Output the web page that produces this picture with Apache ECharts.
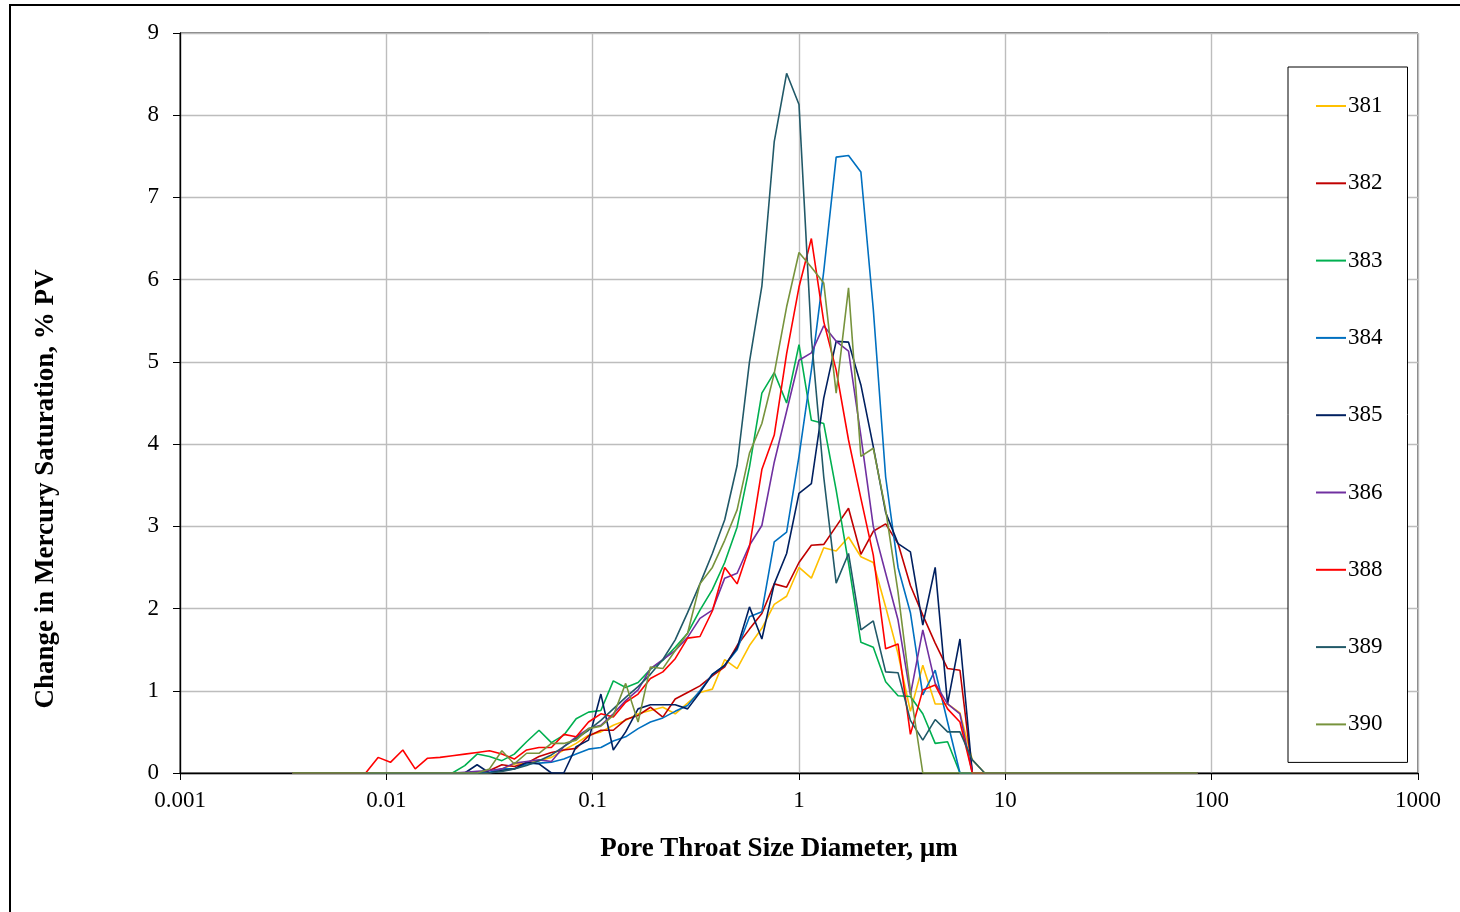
<!DOCTYPE html>
<html>
<head>
<meta charset="utf-8">
<script src="https://cdn.jsdelivr.net/npm/echarts@6/dist/echarts.min.js"></script>
<style>
html,body{margin:0;padding:0;background:#fff;}
#chart{width:1460px;height:912px;}
</style>
</head>
<body>
<div id="chart"></div>
<script>
// Pore throat diameters (µm), shared by all samples
const diameters = [0.0035,
  0.00794, 0.00912, 0.01047, 0.01202, 0.0138, 0.01585, 0.0182, 0.02089, 0.02399, 0.02754,
  0.03162, 0.03631, 0.04169, 0.04786, 0.05495, 0.0631, 0.07244, 0.08318, 0.0955, 0.1096,
  0.1259, 0.1445, 0.166, 0.1905, 0.2188, 0.2512, 0.2884, 0.3311, 0.3802, 0.4365,
  0.5012, 0.5754, 0.6607, 0.7586, 0.871,
  1.0, 1.148, 1.318, 1.514, 1.738, 1.995, 2.291, 2.63, 3.02, 3.467, 3.981, 4.571, 5.248, 6.026, 6.918, 7.943, 9.12,
  85.5];

const sampleNames = ['381', '382', '383', '384', '385', '386', '388', '389', '390'];
const sampleColors = ['#FFC000', '#C00000', '#00B050', '#0070C0', '#002060', '#7030A0', '#FF0000', '#215968', '#77933C'];

const s381 = [0, 0,0,0,0,0,0,0,0,0,0,0,
  0.05,0.11,0.12,0.15,0.19,0.28,0.36,0.46,0.50,0.58,0.64,0.72,0.76,0.80,0.72,0.85,0.98,1.02,1.38,1.27,
  1.55,1.76,2.05,2.15,2.50,2.37,2.74,2.70,2.87,2.63,2.56,2.02,1.45,0.75,1.31,0.84,0.84,0.73,0.16,0,0, 0];
const s382 = [0, 0,0,0,0,0,0,0,0,0,0,
  0.03,0.10,0.08,0.12,0.20, 0.25,0.28,0.30,0.45,0.52, 0.52,0.65,0.70,0.80,0.68, 0.90,0.98,1.06,1.18,1.29,
  1.55,1.75,1.94,2.30,2.26, 2.56,2.77,2.78,3.00,3.22, 2.66,2.94,3.03,2.79,2.28, 1.92,1.58,1.27,1.25,0, 0,0, 0];
const s383 = [0, 0,0,0,0,0,0,0,0,
  0.09,0.23,0.20,0.15,0.23,0.38, 0.52,0.37,0.46,0.66,0.74,0.76, 1.12,1.04,1.10,1.26,1.37, 1.53,1.70,1.98,2.23,2.56,
  2.99,3.72,4.62,4.87,4.50, 5.21,4.29,4.25,3.44,2.55, 1.59,1.53,1.11,0.94,0.93, 0.72,0.36,0.38,0,0, 0,0, 0];
const s384 = [0, 0,0,0,0,0,0,0,0,0,0,
  0.01,0.05,0.05,0.11,0.12, 0.13,0.17,0.23,0.29,0.31, 0.39,0.44,0.54,0.62,0.67, 0.75,0.82,1.00,1.20,1.31,
  1.50,1.90,1.96,2.81,2.93, 3.85,4.90,6.10,7.49,7.51, 7.31,5.64,3.60,2.50,1.95, 0.95,1.25,0.62,0,0, 0,0, 0];
const s385 = [0, 0,0,0,0,0,0,0,0,0,
  0.10, 0,0.03,0.05,0.13,0.11, 0,0,0.32,0.40,0.96, 0.28,0.50,0.78,0.83,0.83, 0.83,0.78,0.98,1.20,1.31,
  1.52,2.02,1.63,2.30,2.67, 3.40,3.52,4.56,5.25,5.24, 4.72,3.97,3.17,2.79,2.69, 1.80,2.50,0.84,1.63,0, 0,0, 0];
const s386 = [0, 0,0,0,0,0,0,0,0,
  0.01,0.02,0.03,0.05,0.12,0.14, 0.16,0.14,0.32,0.44,0.54,0.58, 0.72,0.88,1.01,1.27,1.38, 1.49,1.65,1.88,1.98,2.37,
  2.43,2.77,3.01,3.78,4.40, 5.02,5.11,5.44,5.25,5.13, 4.10,3.00,2.43,1.86,0.95, 1.74,1.09,0.84,0.72,0, 0,0, 0];
const s388 = [0, 0,
  0.19,0.13,0.28,0.05,0.18, 0.19,0.21,0.23,0.25,0.27, 0.23,0.17,0.28,0.31,0.31, 0.47,0.44,0.62,0.72,0.68,
  0.86,0.96,1.15,1.23,1.39, 1.64,1.66,1.97,2.50,2.30, 2.75,3.69,4.11,5.10,5.91, 6.50,5.49,4.90,4.05,3.34,
  2.65,1.51,1.57,0.47,1.01, 1.07,0.78,0.62,0,0, 0, 0];
const s389 = [0, 0,0,0,0,0,0,0,0,0,0,0,
  0.02,0.05,0.09,0.15,0.22, 0.32,0.42,0.52,0.64,0.78, 0.92,1.05,1.20,1.38,1.62, 1.95,2.30,2.67,3.08,3.74,
  5.00,5.92,7.68,8.51,8.13, 5.30,3.60,2.31,2.67,1.74, 1.85,1.23,1.22,0.64,0.40, 0.65,0.50,0.50,0.16,0, 0, 0];
const s390 = [0, 0,0,0,0,0,0,0,0,0,0,
  0.05,0.27,0.11,0.24,0.24, 0.36,0.36,0.40,0.54,0.57, 0.70,1.09,0.62,1.29,1.27, 1.49,1.70,2.30,2.50,2.83,
  3.20,3.89,4.25,4.86,5.67, 6.33,6.15,5.96,4.62,5.90, 3.85,3.95,3.20,2.20,1.00, 0,0,0,0,0, 0,0, 0];

const sampleValues = [s381, s382, s383, s384, s385, s386, s388, s389, s390];
const xTickLabels = ['0.001', '0.01', '0.1', '1', '10', '100', '1000'];

const serif = "'Times New Roman', 'Liberation Serif', serif";

const chart = echarts.init(document.getElementById('chart'), null, {renderer: 'canvas'});

const series = sampleNames.map((name, i) => ({
  name: name,
  type: 'line',
  showSymbol: false,
  symbol: 'none',
  animation: false,
  data: diameters.map((d, j) => [d, sampleValues[i][j]]),
  lineStyle: {color: sampleColors[i], width: 1.6},
  itemStyle: {color: sampleColors[i]},
  z: 3 + i
}));

chart.setOption({
  animation: false,
  backgroundColor: '#ffffff',
  grid: {left: 180, top: 33, right: 42, bottom: 139, show: true, borderColor: '#000', borderWidth: 1, backgroundColor: 'transparent'},
  xAxis: {
    type: 'log', logBase: 10, min: 0.001, max: 1000,
    axisLine: {show: true, onZero: false, lineStyle: {color: '#000', width: 1.3}},
    axisTick: {show: true, length: 7, inside: false, lineStyle: {color: '#000', width: 1}},
    minorTick: {show: false},
    axisLabel: {
      margin: 16, color: '#000', fontFamily: serif, fontSize: 23,
      formatter: function (v) {
        const e = Math.round(Math.log10(v));
        return xTickLabels[e + 3];
      }
    },
    splitLine: {show: true, lineStyle: {color: '#BDBDBD', width: 1.4}}
  },
  yAxis: {
    type: 'value', min: 0, max: 9, interval: 1,
    axisLine: {show: true, lineStyle: {color: '#000', width: 1.3}},
    axisTick: {show: true, length: 7, lineStyle: {color: '#000', width: 1}},
    axisLabel: {margin: 21, color: '#000', fontFamily: serif, fontSize: 23},
    splitLine: {show: true, lineStyle: {color: '#BDBDBD', width: 1.4}}
  },
  legend: {
    orient: 'vertical',
    left: 1288, top: 67,
    padding: [27, 25, 26, 28],
    itemGap: 53.3,
    itemWidth: 30, itemHeight: 2,
    icon: 'rect',
    backgroundColor: '#fff',
    borderColor: '#000', borderWidth: 1,
    textStyle: {color: '#000', fontFamily: serif, fontSize: 23, lineHeight: 24, padding: [0, 0, 0, -3]},
    data: sampleNames
  },
  graphic: [
    {type: 'rect', silent: true, z: 100,
     shape: {x: 10, y: 5, width: 1500, height: 1000},
     style: {fill: 'none', stroke: '#000', lineWidth: 2}},
    {type: 'text', silent: true, z: 100,
     x: 46, y: 489, rotation: Math.PI / 2,
     style: {text: 'Change in Mercury Saturation, % PV', fill: '#000', font: 'bold 27px ' + serif, textAlign: 'center', textVerticalAlign: 'middle'}},
    {type: 'text', silent: true, z: 100,
     x: 779, y: 849,
     style: {text: 'Pore Throat Size Diameter, µm', fill: '#000', font: 'bold 27px ' + serif, textAlign: 'center', textVerticalAlign: 'middle'}}
  ],
  series: series
});
</script>
</body>
</html>
